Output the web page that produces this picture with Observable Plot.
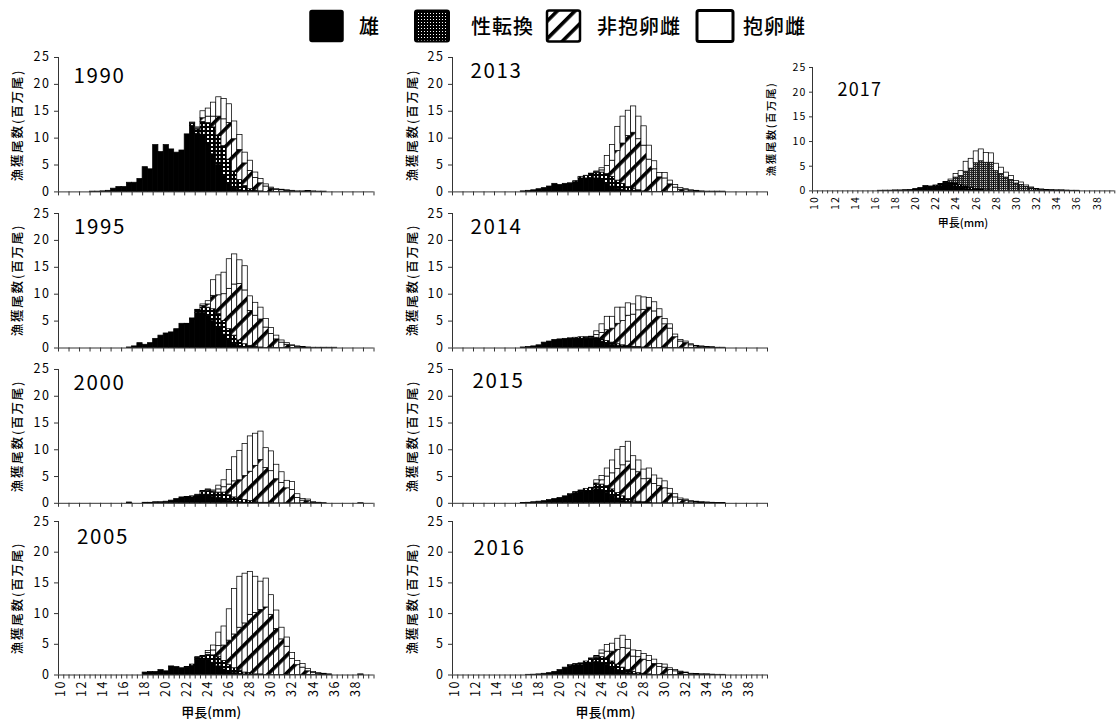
<!DOCTYPE html>
<html lang="ja"><head><meta charset="utf-8">
<script src="https://cdn.jsdelivr.net/npm/d3@7"></script>
<script src="https://cdn.jsdelivr.net/npm/@observablehq/plot@0.6"></script>
<style>
html,body{margin:0;padding:0;background:#fff;}
body{width:1120px;height:722px;position:relative;overflow:hidden;font-family:"Noto Sans CJK JP","Noto Sans",sans-serif;color:#000;}
.pnl{position:absolute;}
.pnl svg{max-width:none;overflow:visible;}
.ytitle{position:absolute;white-space:nowrap;transform:translate(-50%,-50%) rotate(-90deg);font-size:12.5px;letter-spacing:1.8px;line-height:1;font-weight:500;}
.xtitle{position:absolute;white-space:nowrap;transform:translate(-50%,-50%);font-size:13px;line-height:1;font-weight:500;}
</style></head><body>
<svg width="0" height="0" style="position:absolute;left:0;top:0">
 <defs>
  <pattern id="pDots" patternUnits="userSpaceOnUse" width="4" height="4">
    <rect width="4" height="4" fill="#000"/><rect x="1" y="1" width="2" height="2" fill="#fff"/>
  </pattern>
  <pattern id="pDotsL" patternUnits="userSpaceOnUse" width="3" height="3">
    <rect width="3" height="3" fill="#000"/><rect x="1" y="1" width="1" height="1" fill="#fff"/>
  </pattern>
  <pattern id="pHatch" patternUnits="userSpaceOnUse" width="12.5" height="12.5" patternTransform="rotate(45)">
    <rect width="12.5" height="12.5" fill="#fff"/><rect width="3.6" height="12.5" fill="#000"/>
  </pattern>
  <pattern id="pDotsS" patternUnits="userSpaceOnUse" width="3" height="3">
    <rect width="3" height="3" fill="#000"/><rect x="1" y="1" width="1" height="1" fill="#fff"/>
  </pattern>
  <pattern id="pHatchS" patternUnits="userSpaceOnUse" width="2" height="2">
    <rect width="2" height="2" fill="#2a2a2a"/><rect width="1" height="1" fill="#cfcfcf"/>
  </pattern>
 </defs>
</svg>
<div id="root"></div>
<script>
// ---------- data (millions of individuals per 0.5 mm carapace-length class, 10.0 ... 39.5 mm) ----------
const series = ["雄", "性転換", "非抱卵雌", "抱卵雌"];
const yTicks = [0, 5, 10, 15, 20, 25];
const xTickLabels = [10, 12, 14, 16, 18, 20, 22, 24, 26, 28, 30, 32, 34, 36, 38];
const Z = [0,0,0,0,0,0,0,0,0,0];

const m1990 = [0,0,0,0,0,0,0.05,0.05,0.1,0.2, 0.6,0.9,0.9,1.7,1.7,2.4,4.6,4.2,8.7,7.4, 8.7,7.9,7.3,7.7,10.7,12.3,10.8,10.5,9.0,7.0, 5.0,3.0,1.5,0.8,0.4,0.2,0.1,0.05,0,0, ...Z, ...Z];
const s1990 = [...Z, ...Z, 0,0,0,0,0,0.4,0.8,2.5,3.8,5.0, 5.5,5.5,4.5,3.0,1.8,0.9,0.4,0.15,0.1,0, ...Z, ...Z];
const n1990 = [...Z, ...Z, 0,0,0,0,0,0.1,0.2,0.7,1.2,2.0, 3.5,5.0,6.8,6.0,5.6,4.2,3.4,2.4,1.5,1.0, 0.6,0.35,0.3,0.2,0.15,0.1,0.1,0.1,0.1,0.05, 0.05,0,0,0,0,0,0,0,0,0];
const e1990 = [...Z, ...Z, 0,0,0,0,0,0.1,0.2,1.3,1.5,2.6, 3.6,3.8,3.5,3.3,2.8,2.0,1.9,1.0,0.8,0.4, 0.2,0.15,0.1,0.1,0.05,0,0,0.05,0,0, ...Z];

const m1995 = [...Z, 0,0,0,0.1,0.3,0.9,0.6,0.9,1.7,2.3, 2.7,2.9,3.5,4.5,4.4,5.3,6.5,6.5,6.0,5.0, 3.8,2.5,1.5,0.8,0.4,0.2,0.1,0,0,0, ...Z, ...Z];
const s1995 = [...Z, ...Z, 0,0,0,0,0.1,0.2,0.5,1.0,1.5,2.2, 2.5,2.5,2.0,1.5,1.0,0.5,0.3,0.2,0.1,0, ...Z, ...Z];
const n1995 = [...Z, ...Z, 0,0,0,0,0,0,0.1,0.3,0.6,2.5, 3.5,5.0,7.5,9.5,10.5,10.0,6.5,5.8,5.2,3.8, 2.6,1.6,1.0,0.6,0.35,0.2,0.1,0.1,0.05,0.05, 0.05,0.05,0.05,0,0,0,0,0,0,0];
const e1995 = [...Z, ...Z, 0,0,0,0,0,0,0,0.3,0.6,2.9, 3.7,4.0,5.5,5.6,4.4,4.5,2.7,2.4,2.2,1.6, 1.1,0.7,0.4,0.3,0.15,0.1,0.1,0,0,0, ...Z];

const m2000 = [...Z, 0,0,0,0.15,0,0,0.1,0.1,0.2,0.2, 0.3,0.5,0.8,1.1,1.1,1.1,1.3,1.6,1.6,1.2, 1.0,0.8,0.5,0.3,0.2,0.1,0.1,0,0,0, ...Z, ...Z];
const s2000 = [...Z, ...Z, 0,0,0,0,0.1,0.2,0.3,0.5,0.7,0.8, 1.0,1.2,1.0,0.8,0.6,0.5,0.3,0.2,0.1,0.1, ...Z, ...Z];
const n2000 = [...Z, ...Z, 0,0,0,0,0,0,0,0.1,0.2,0.2, 0.6,1.0,2.0,3.0,3.5,4.5,5.5,6.8,8.0,6.5, 6.0,4.5,3.8,2.8,2.5,1.0,0.5,0.4,0.1,0.05, 0.03,0,0,0,0,0,0,0.03,0,0];
const e2000 = [...Z, ...Z, 0,0,0,0,0,0,0,0.1,0.1,0.2, 0.7,1.3,2.7,4.5,5.5,6.0,6.6,6.0,5.3,3.7, 3.7,2.7,2.0,1.4,1.5,0.7,0.3,0.3,0.1,0.05, ...Z];

const m2005 = [...Z, 0,0,0,0,0,0,0.4,0.5,0.5,0.8, 0.6,1.4,1.3,1.1,1.2,1.5,2.5,2.5,2.5,2.0, 1.4,0.9,0.5,0.3,0.2,0.1,0.1,0,0,0, ...Z, ...Z];
const s2005 = [...Z, ...Z, 0,0,0,0,0.1,0.2,0.3,0.4,0.8,1.2, 1.5,1.4,1.1,0.8,0.5,0.3,0.2,0.1,0.1,0, ...Z, ...Z];
const n2005 = [...Z, ...Z, 0,0,0,0,0,0,0.1,0.1,0.3,0.8, 1.8,2.5,4.0,5.5,7.0,8.0,9.5,10.0,10.5,11.0, 9.8,7.5,5.8,4.6,2.6,1.6,1.2,0.6,0.3,0.2, 0.1,0.05,0,0,0,0,0,0.05,0,0];
const e2005 = [...Z, ...Z, 0,0,0,0,0,0,0,0.1,0.3,0.8, 2.2,3.1,5.1,7.4,8.3,8.1,7.0,5.9,4.6,4.7, 3.2,3.0,1.9,1.5,1.0,0.7,0.6,0.4,0.2,0.1, 0.1,0.05,0,0,0,0,0,0.05,0,0];

const m2013 = [...Z, 0,0,0,0.1,0.2,0.3,0.5,0.7,1.0,1.5, 1.3,1.5,1.5,1.8,2.5,2.5,2.6,2.5,2.2,1.5, 1.0,0.6,0.4,0.2,0.1,0.1,0,0,0,0, ...Z, ...Z];
const s2013 = [...Z, ...Z, 0,0,0.1,0.2,0.3,0.5,0.7,1.0,1.4,1.8, 1.8,1.5,1.1,0.7,0.4,0.2,0.1,0,0,0, ...Z, ...Z];
const n2013 = [...Z, ...Z, 0,0,0,0,0,0,0.1,0.2,0.4,1.5, 3.0,5.5,7.5,9.5,10.5,9.5,8.5,6.0,4.2,2.7, 2.5,1.4,0.8,0.4,0.3,0.2,0.1,0.1,0.05,0.05, 0.05,0.05,0,0,0,0,0,0,0,0];
const e2013 = [...Z, ...Z, 0,0,0,0,0,0,0,0.1,0.4,1.9, 2.9,4.5,5.0,4.7,4.9,4.2,3.6,2.6,1.5,0.8, 1.0,0.7,0.5,0.3,0.2,0.1,0.1,0,0,0, ...Z];

const m2014 = [...Z, 0,0,0,0.1,0.2,0.3,0.5,1.0,1.2,1.5, 1.6,1.7,1.7,1.7,1.7,1.6,1.6,1.5,1.2,0.9, 0.6,0.4,0.3,0.2,0.1,0.1,0,0,0,0, ...Z, ...Z];
const s2014 = [...Z, ...Z, 0,0,0.1,0.2,0.3,0.3,0.3,0.4,0.4,0.4, 0.4,0.3,0.2,0.2,0.1,0.1,0.1,0,0,0, ...Z, ...Z];
const n2014 = [...Z, ...Z, 0,0,0,0,0,0.1,0.1,0.5,1.2,2.0, 2.6,3.8,4.5,5.6,6.0,6.8,7.0,7.5,6.8,5.8, 4.4,3.6,2.0,1.2,0.9,0.5,0.3,0.2,0.1,0.1, 0.05,0.05,0,0,0,0,0,0,0,0];
const e2014 = [...Z, ...Z, 0,0,0,0,0,0,0.1,0.7,1.6,2.5, 2.2,3.0,2.5,2.3,1.9,2.6,2.3,1.8,1.7,1.4, 1.0,0.8,0.5,0.3,0.3,0.2,0.1,0.1,0.1,0.05, ...Z];

const m2015 = [...Z, 0,0,0,0.05,0.1,0.2,0.3,0.4,0.6,0.8, 1.0,1.3,1.6,1.9,2.1,2.3,2.3,2.6,2.5,2.0, 1.4,0.9,0.5,0.3,0.2,0.1,0.1,0,0,0, ...Z, ...Z];
const s2015 = [...Z, ...Z, 0,0,0.1,0.2,0.3,0.4,0.5,0.8,1.0,1.2, 1.2,1.0,0.8,0.5,0.3,0.2,0.1,0.1,0,0, ...Z, ...Z];
const n2015 = [...Z, ...Z, 0,0,0,0,0,0,0.1,0.3,0.8,1.8, 3.0,4.5,5.8,7.0,5.8,5.5,4.3,4.5,3.6,3.2, 2.8,1.8,1.1,0.6,0.5,0.3,0.2,0.15,0.1,0.1, 0.05,0.05,0,0,0,0,0,0,0,0];
const e2015 = [...Z, ...Z, 0,0,0,0,0,0,0,0.6,0.8,1.5, 2.4,3.6,3.4,3.7,2.5,2.2,1.8,1.9,1.6,1.4, 1.3,0.9,0.6,0.3,0.2,0.1,0.1,0.05,0.05,0, ...Z];

const m2016 = [...Z, 0,0,0,0,0.03,0.05,0.1,0.2,0.3,0.5, 0.8,1.2,1.5,1.6,1.6,1.8,2.0,2.1,2.0,1.7, 1.2,0.8,0.5,0.3,0.2,0.1,0.1,0,0,0, ...Z, ...Z];
const s2016 = [...Z, ...Z, 0,0,0.1,0.2,0.3,0.4,0.6,0.7,0.9,1.0, 1.0,0.9,0.7,0.5,0.3,0.2,0.1,0.1,0,0, ...Z, ...Z];
const n2016 = [...Z, ...Z, 0,0,0,0,0,0,0.1,0.2,0.6,1.1, 1.6,2.4,3.2,3.5,2.5,2.6,2.3,2.2,1.8,1.3, 1.2,0.8,0.6,0.4,0.3,0.15,0.1,0.07,0.07,0.03, 0.03,0.03,0,0,0,0,0,0,0,0];
const e2016 = [...Z, ...Z, 0,0,0,0,0,0,0,0.1,0.5,1.1, 1.3,1.8,2.0,1.4,1.0,1.0,0.9,0.8,0.7,0.5, 0.5,0.3,0.2,0.15,0.1,0.05,0.05,0.03,0.03,0.02, ...Z];

const m2017 = [...Z, 0,0,0,0.03,0.05,0.05,0.1,0.1,0.15,0.2, 0.4,0.6,1.0,0.8,0.9,1.0,1.1,1.1,0.9,0.6, 0.4,0.2,0.1,0.1,0,0,0,0,0,0, ...Z, ...Z];
const s2017 = [...Z, ...Z, 0,0,0,0.1,0.2,0.3,0.4,0.5,0.6,0.6, 0.5,0.4,0.3,0.2,0.1,0.1,0,0,0,0, ...Z, ...Z];
const n2017 = [...Z, ...Z, 0,0,0,0,0,0.1,0.2,0.4,1.2,1.8, 3.0,3.9,5.2,5.7,5.6,5.6,4.0,3.4,2.7,2.2, 1.5,1.2,0.8,0.5,0.3,0.2,0.15,0.1,0.07,0.07, 0.07,0.03,0.03,0,0,0,0,0,0,0];
const e2017 = [...Z, ...Z, 0,0,0,0,0,0,0.1,0.3,0.7,1.0, 2.0,2.0,2.4,2.4,2.0,1.9,1.5,1.3,1.0,0.8, 0.5,0.5,0.3,0.2,0.1,0.1,0.05,0.05,0.03,0.03, ...Z];

// ---------- layout ----------
const bins = d3.range(60).map(i => 10 + i * 0.5);
const axisColor = "#333";
const FONT = "'Noto Sans CJK JP', 'Noto Sans', sans-serif";

const panels = [
  {year: "1990", arrs: [m1990, s1990, n1990, e1990], x0: 57.5, x1: 373, y0: 57.3, y1: 191.7, dx: 15, base: 26},
  {year: "1995", arrs: [m1995, s1995, n1995, e1995], x0: 57.5, x1: 373, y0: 212.5, y1: 347, dx: 15.5, base: 20.5},
  {year: "2000", arrs: [m2000, s2000, n2000, e2000], x0: 57.5, x1: 373, y0: 368.9, y1: 502.7, dx: 15, base: 21},
  {year: "2005", arrs: [m2005, s2005, n2005, e2005], x0: 57.5, x1: 373, y0: 521, y1: 674.5, dx: 18.5, base: 22, bottom: true},
  {year: "2013", arrs: [m2013, s2013, n2013, e2013], x0: 452, x1: 767, y0: 57.3, y1: 191.7, dx: 18, base: 21},
  {year: "2014", arrs: [m2014, s2014, n2014, e2014], x0: 452, x1: 767, y0: 212.5, y1: 347, dx: 18, base: 20.5},
  {year: "2015", arrs: [m2015, s2015, n2015, e2015], x0: 452, x1: 767, y0: 368.9, y1: 502.7, dx: 20, base: 19},
  {year: "2016", arrs: [m2016, s2016, n2016, e2016], x0: 452, x1: 767, y0: 521, y1: 674.5, dx: 21, base: 33, bottom: true},
  {year: "2017", arrs: [m2017, s2017, n2017, e2017], x0: 811.7, x1: 1114, y0: 67.3, y1: 190.7, dx: 25, base: 28.4, bottom: true, small: true}
];

function toRows(arrs) {
  const out = [];
  arrs.forEach((arr, si) => arr.forEach((v, i) => {
    if (v > 0) out.push({bin: bins[i], value: v, series: series[si]});
  }));
  return out;
}

const root = document.getElementById("root");

for (const p of panels) {
  const mL = 40, mR = 4, mT = 6, mB = p.bottom ? 36 : 8;
  const fs = p.small ? 10.5 : 12.5;
  const range = p.small
    ? ["#000", "url(#pDotsS)", "url(#pHatchS)", "#fff"]
    : ["#000", "url(#pDots)", "url(#pHatch)", "#fff"];
  const marks = [
    Plot.rectY(toRows(p.arrs), {
      x1: "bin", x2: d => d.bin + 0.5, y: "value", fill: "series",
      stroke: "#000", strokeWidth: 0.75
    }),
    Plot.ruleY([0], {stroke: axisColor}),
    Plot.ruleX([10], {stroke: axisColor}),
    Plot.axisY({ticks: yTicks, tickSize: p.small ? 3 : 4, tickPadding: p.small ? 3 : 4, label: null, stroke: axisColor}),
    Plot.axisX({ticks: p.bottom ? bins.concat([40]) : d3.range(10, 41), tickSize: p.small ? 3 : 4, fill: "none", label: null, stroke: axisColor}),
    Plot.text([p.year], {frameAnchor: "top-left", dx: p.dx, dy: p.base, fontSize: p.small ? 18 : 20.5, lineAnchor: "bottom", textAnchor: "start"})
  ];
  if (p.bottom) {
    marks.push(Plot.axisX({
      ticks: xTickLabels.map(v => v + 0.25), tickFormat: d => String(d - 0.25),
      tickSize: 0, tickRotate: -90, tickPadding: 5, label: null
    }));
  }
  const svg = Plot.plot({
    width: p.x1 - p.x0 + mL + mR,
    height: p.y1 - p.y0 + mT + mB,
    marginLeft: mL, marginRight: mR, marginTop: mT, marginBottom: mB,
    style: {fontFamily: FONT, fontSize: fs + "px", letterSpacing: p.small ? "1.2px" : "1.6px", background: "none", maxWidth: "none", overflow: "visible"},
    x: {type: "linear", domain: [10, 40]},
    y: {domain: [0, 25]},
    color: {type: "ordinal", domain: series, range},
    marks
  });
  const div = document.createElement("div");
  div.className = "pnl";
  div.style.left = (p.x0 - mL) + "px";
  div.style.top = (p.y0 - mT) + "px";
  div.appendChild(svg);
  root.appendChild(div);

  const yt = document.createElement("div");
  yt.className = "ytitle";
  yt.textContent = "漁獲尾数(百万尾)";
  yt.style.left = (p.small ? 771 : p.x0 - 40.5) + "px";
  yt.style.top = ((p.y0 + p.y1) / 2) + "px";
  if (p.small) { yt.style.fontSize = "10.5px"; yt.style.letterSpacing = "1.5px"; }
  root.appendChild(yt);

  if (p.bottom) {
    const xt = document.createElement("div");
    xt.className = "xtitle";
    xt.textContent = "甲長(mm)";
    if (p.small) {
      xt.style.left = "963px"; xt.style.top = "222px"; xt.style.fontSize = "11px";
    } else {
      xt.style.left = ((p.x0 + p.x1) / 2 - 4) + "px"; xt.style.top = "711px";
    }
    root.appendChild(xt);
  }
}

// ---------- legend ----------
const legendItems = [
  {label: "雄", fill: "#000", x: 310, w: 33, sw: 1.5, tx: 359},
  {label: "性転換", fill: "url(#pDotsL)", x: 415, w: 34, sw: 2, tx: 471},
  {label: "非抱卵雌", fill: "url(#pHatch)", x: 547, w: 33, sw: 2.5, tx: 597},
  {label: "抱卵雌", fill: "#fff", x: 697, w: 36, sw: 3, tx: 743}
];
const ns = "http://www.w3.org/2000/svg";
const leg = document.createElementNS(ns, "svg");
leg.setAttribute("width", 1120); leg.setAttribute("height", 50);
leg.style.position = "absolute"; leg.style.left = "0px"; leg.style.top = "0px";
for (const it of legendItems) {
  const r = document.createElementNS(ns, "rect");
  r.setAttribute("x", it.x); r.setAttribute("y", 10.5);
  r.setAttribute("width", it.w); r.setAttribute("height", 31);
  r.setAttribute("rx", 2); r.setAttribute("fill", it.fill);
  r.setAttribute("stroke", "#000"); r.setAttribute("stroke-width", it.sw);
  leg.appendChild(r);
  const t = document.createElementNS(ns, "text");
  t.setAttribute("x", it.tx); t.setAttribute("y", 34);
  t.setAttribute("font-size", 20); t.setAttribute("font-family", "Noto Sans CJK JP");
  t.setAttribute("font-weight", "500");
  t.setAttribute("letter-spacing", "1");
  t.textContent = it.label;
  leg.appendChild(t);
}
root.appendChild(leg);
</script>
</body></html>
